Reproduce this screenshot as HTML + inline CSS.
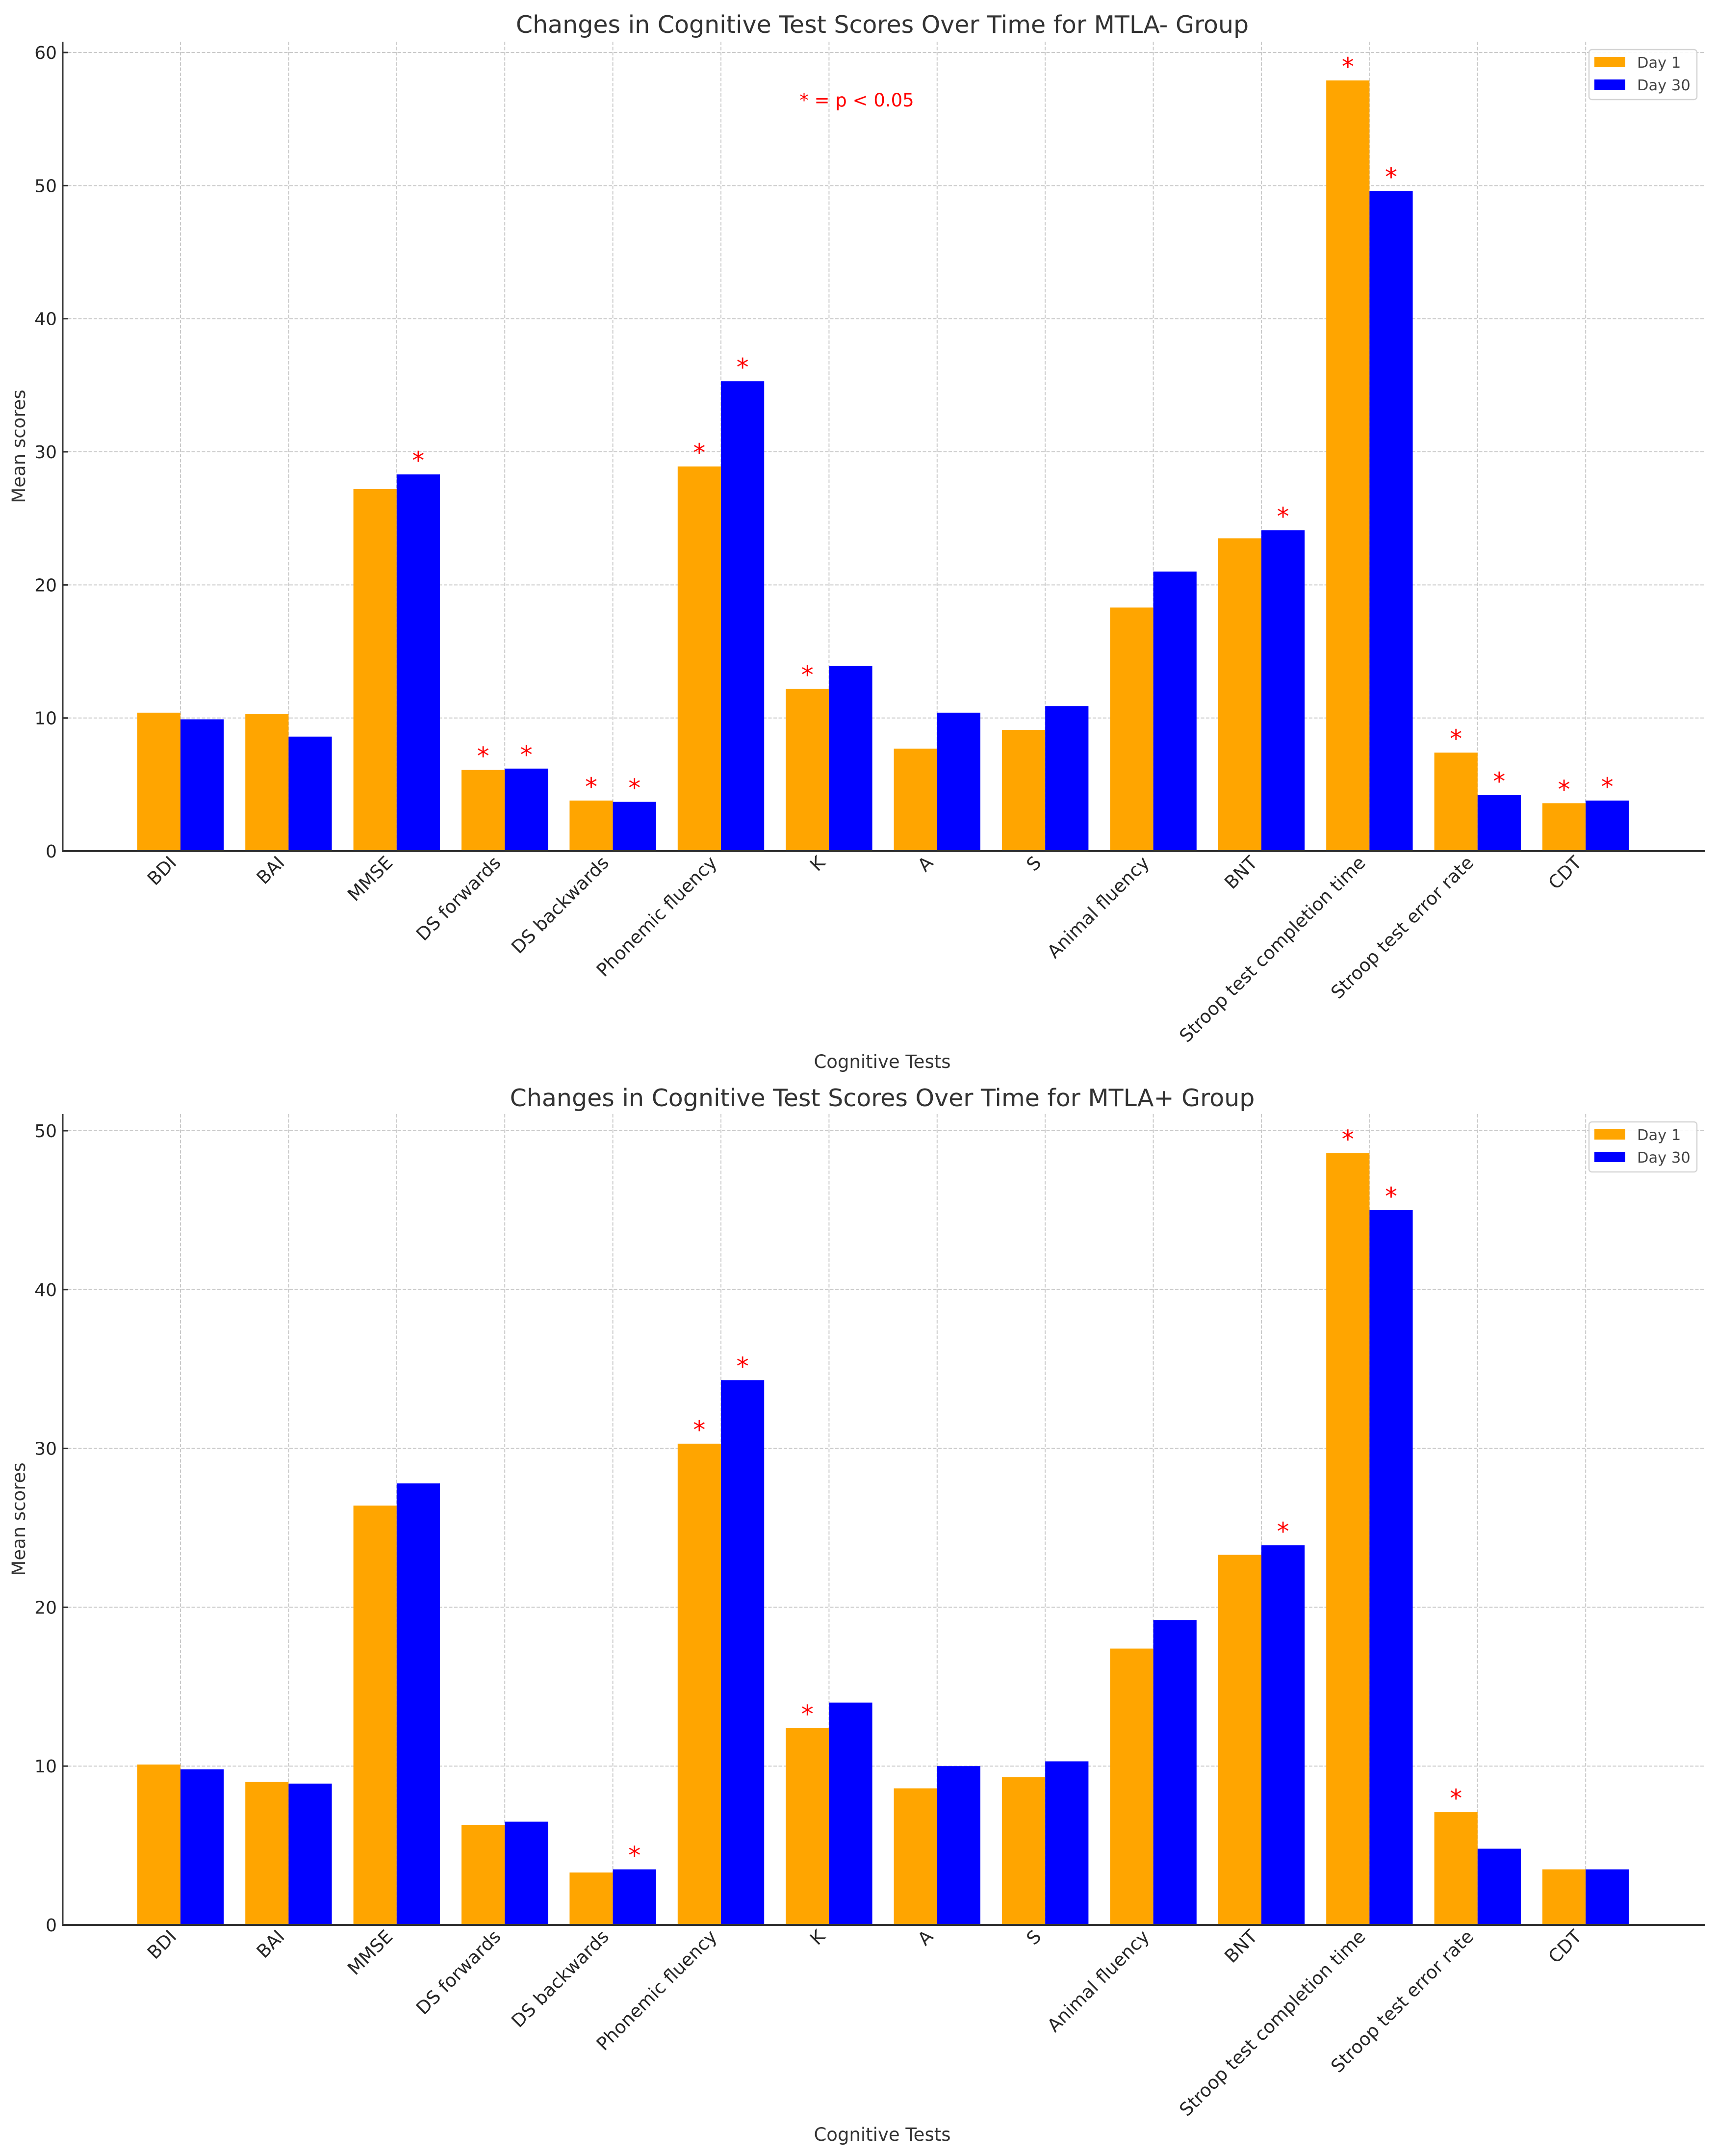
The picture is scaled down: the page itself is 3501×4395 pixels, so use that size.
<!DOCTYPE html>
<html lang="en">
<head>
<meta charset="utf-8">
<title>Changes in Cognitive Test Scores Over Time</title>
<style>
html,body{margin:0;padding:0;background:#fff;width:3501px;height:4395px;overflow:hidden}
svg{display:block}
text{font-family:"DejaVu Sans","Liberation Sans",sans-serif}
</style>
</head>
<body>
<svg id="figure" xmlns="http://www.w3.org/2000/svg" width="3501" height="4395" viewBox="0 0 3501 4395">
  <rect x="0" y="0" width="3501" height="4395" fill="#ffffff"/>
  <g id="panel-minus">
    <text x="1799" y="67" font-size="49" fill="#333333" text-anchor="middle">Changes in Cognitive Test Scores Over Time for MTLA- Group</text>
    <text transform="translate(51,910) rotate(-90)" font-size="37" fill="#333333" text-anchor="middle">Mean scores</text>
    <text x="1799" y="2177" font-size="37" fill="#333333" text-anchor="middle">Cognitive Tests</text>
    <text x="1747" y="217" font-size="37" fill="#ff0000" text-anchor="middle">* = p &lt; 0.05</text>
  </g>
  <g id="panel-plus">
    <text x="1799" y="2255" font-size="49" fill="#333333" text-anchor="middle">Changes in Cognitive Test Scores Over Time for MTLA+ Group</text>
    <text transform="translate(51,3097) rotate(-90)" font-size="37" fill="#333333" text-anchor="middle">Mean scores</text>
    <text x="1799" y="4364" font-size="37" fill="#333333" text-anchor="middle">Cognitive Tests</text>
  </g>
</svg>
<script>
const categories = ["BDI","BAI","MMSE","DS forwards","DS backwards","Phonemic fluency","K","A","S","Animal fluency","BNT","Stroop test completion time","Stroop test error rate","CDT"];
const seriesNames = ["Day 1","Day 30"];
const seriesColors = ["#ffa500","#0000ff"];

const minusDay1 = [10.4,10.3,27.2,6.1,3.8,28.9,12.2,7.7,9.1,18.3,23.5,57.9,7.4,3.6];
const minusDay30 = [9.9,8.6,28.3,6.2,3.7,35.3,13.9,10.4,10.9,21.0,24.1,49.6,4.2,3.8];
const minusSigDay1 = [0,0,0,1,1,1,1,0,0,0,0,1,1,1];
const minusSigDay30 = [0,0,1,1,1,1,0,0,0,0,1,1,1,1];
const minusTicks = [0,10,20,30,40,50,60];

const plusDay1 = [10.1,9.0,26.4,6.3,3.3,30.3,12.4,8.6,9.3,17.4,23.3,48.6,7.1,3.5];
const plusDay30 = [9.8,8.9,27.8,6.5,3.5,34.3,14.0,10.0,10.3,19.2,23.9,45.0,4.8,3.5];
const plusSigDay1 = [0,0,0,0,0,1,1,0,0,0,0,1,1,0];
const plusSigDay30 = [0,0,0,0,1,1,0,0,0,0,1,1,0,0];
const plusTicks = [0,10,20,30,40,50];

const NS = "http://www.w3.org/2000/svg";

function make(parent, tag, attrs, content) {
  const el = document.createElementNS(NS, tag);
  for (const k in attrs) el.setAttribute(k, attrs[k]);
  if (content !== undefined) el.textContent = content;
  parent.appendChild(el);
  return el;
}

function drawPanel(panelId, prefix, day1, day30, sig1, sig30, ticks, top, zero, tickMaxY) {
  const root = document.getElementById(panelId);
  const left = 128, right = 3476;
  const maxTick = ticks[ticks.length - 1];
  const yScale = v => zero - (v / maxTick) * (zero - tickMaxY);
  const firstCenter = 368, step = 220.4, barWidth = 88.2;
  const xScale = i => firstCenter + i * step;

  const grid = make(root, "g", {});
  
  
  ticks.forEach(t => {
    if (t === 0) return;
    const l = make(grid, "line", {x1:left, x2:right, y1:yScale(t), y2:yScale(t), stroke:"#cacaca", "stroke-width":2, "stroke-dasharray":"7 3.5"});
    
    
  });
  categories.forEach((c, i) => {
    const l = make(grid, "line", {x1:xScale(i), x2:xScale(i), y1:top, y2:zero, stroke:"#cacaca", "stroke-width":2, "stroke-dasharray":"7 3.5"});
    
    
  });

  const bars = make(root, "g", {});
  
  
  [day1, day30].forEach((vals, s) => {
    vals.forEach((v, i) => {
      const x = xScale(i) + (s === 0 ? -barWidth : 0);
      const y = yScale(v);
      const r = make(bars, "rect", {x:x, y:y, width:barWidth, height:zero - y, fill:seriesColors[s]});
      
      
    });
  });

  [sig1, sig30].forEach((flags, s) => {
    const vals = s === 0 ? day1 : day30;
    flags.forEach((f, i) => {
      if (!f) return;
      const x = xScale(i) + (s === 0 ? -barWidth / 2 : barWidth / 2);
      const t = make(root, "text", {x:x, y:yScale(vals[i]) - 11, "font-size":50, fill:"#ff0000", "text-anchor":"middle"}, "*");
      
      
    });
  });

  const yAxis = make(root, "line", {x1:left, x2:left, y1:top, y2:zero + 2, stroke:"#333333", "stroke-width":3});
  
  
  const xAxis = make(root, "line", {x1:left, x2:right, y1:zero, y2:zero, stroke:"#333333", "stroke-width":4});
  
  

  ticks.forEach(t => {
    const m = make(root, "line", {x1:left, x2:left + 11, y1:yScale(t), y2:yScale(t), stroke:"#333333", "stroke-width":3});
    
    
    const lab = make(root, "text", {x:left - 12, y:yScale(t) + 13, "font-size":36, fill:"#262626", "text-anchor":"end"}, String(t));
    
    
  });

  categories.forEach((c, i) => {
    const ax = xScale(i) - 6, ay = zero + 26;
    const lab = make(root, "text", {transform:"translate(" + ax + "," + ay + ") rotate(-45)", "font-size":37, fill:"#262626", "text-anchor":"end"}, c);
    
    
  });

  const legend = make(root, "g", {});
  
  
  const ly = top + 16;
  const box = make(legend, "rect", {x:3240, y:ly, width:220, height:102, rx:6, ry:6, fill:"#ffffff", "fill-opacity":0.9, stroke:"#d4d4d4", "stroke-width":2.5});
  
  
  seriesNames.forEach((n, s) => {
    const rowY = ly + 15 + s * 46;
    const sw = make(legend, "rect", {x:3251, y:rowY, width:63, height:21, fill:seriesColors[s]});
    
    
    const t = make(legend, "text", {x:3338, y:rowY + 22, "font-size":30.5, fill:"#444444"}, n);
    
    
  });
}

drawPanel("panel-minus", "mtla-minus", minusDay1, minusDay30, minusSigDay1, minusSigDay30, minusTicks, 85, 1735, 107);
drawPanel("panel-plus", "mtla-plus", plusDay1, plusDay30, plusSigDay1, plusSigDay30, plusTicks, 2271, 3924, 2305);
</script>
</body>
</html>
